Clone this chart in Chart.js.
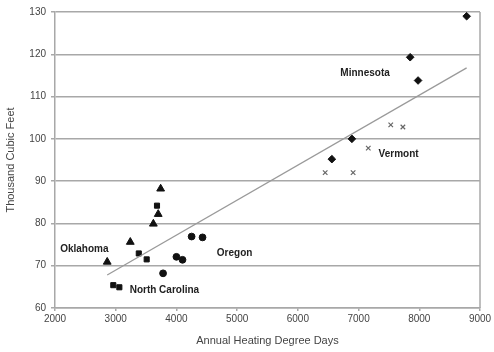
<!DOCTYPE html>
<html lang="en">
<head>
    <meta charset="UTF-8">
    <title>Heating Degree Days vs Gas Use</title>
    <script src="https://cdn.jsdelivr.net/npm/chart.js"></script>
    <style>
        html, body { margin: 0; padding: 0; background: #fff; }
        #wrap { width: 494px; height: 352px; }
    </style>
</head>
<body>
    <div id="wrap"><canvas id="hddChart" width="494" height="352"></canvas></div>
    <script>
        // Values (degree days, thousand cubic feet)
        const minnesotaX = [8780, 7850, 7980, 6890, 6560];
        const minnesotaY = [129.0, 119.3, 113.8, 100.0, 95.2];
        const vermontX = [7530, 7730, 7160, 6450, 6910];
        const vermontY = [103.3, 102.8, 97.8, 92.0, 92.0];
        const oklahomaX = [2860, 3240, 3620, 3700, 3740];
        const oklahomaY = [70.9, 75.6, 79.9, 82.2, 88.2];
        const carolinaX = [3680, 3380, 3510, 2960, 3060];
        const carolinaY = [84.2, 72.9, 71.5, 65.4, 64.9];
        const oregonX = [4250, 4430, 4000, 4100, 3780];
        const oregonY = [76.9, 76.7, 72.1, 71.4, 68.2];
        const trendX = [2860, 8780];
        const trendY = [67.8, 116.8];

        const yTicks = [60, 70, 80, 90, 100, 110, 120, 130];

        // State names placed next to their groups: [text, x, y]
        const stateLabels = [
            ['Minnesota', 6700, 115.6],
            ['Vermont', 7330, 96.3],
            ['Oklahoma', 2085, 74.0],
            ['North Carolina', 3230, 64.2],
            ['Oregon', 4665, 73.0]
        ];

        function pts(xs, ys) {
            return xs.map((x, i) => ({ x: x, y: ys[i] }));
        }

        const textFont = '"Liberation Sans", Arial, sans-serif';

        const labelPlugin = {
            id: 'stateLabels',
            afterDatasetsDraw(chart) {
                const c = chart.ctx;
                const xs = chart.scales.x, ys = chart.scales.y;
                c.save();
                c.font = 'bold 10px ' + textFont;
                c.fillStyle = '#222';
                c.textBaseline = 'middle';
                stateLabels.forEach(l => {
                    c.fillText(l[0], xs.getPixelForValue(l[1]), ys.getPixelForValue(l[2]));
                });
                c.restore();
            }
        };

        const framePlugin = {
            id: 'frame',
            beforeDatasetsDraw(chart) {
                const a = chart.chartArea, c = chart.ctx;
                c.save();
                c.strokeStyle = '#a8a8a8';
                c.lineWidth = 1.5;
                c.beginPath();
                c.moveTo(a.right, a.top);
                c.lineTo(a.right, a.bottom);
                c.stroke();
                c.restore();
            }
        };

        const ctx = document.getElementById('hddChart').getContext('2d');
        new Chart(ctx, {
            type: 'scatter',
            data: {
                datasets: [
                    {
                        type: 'line',
                        data: pts(trendX, trendY),
                        borderColor: '#9a9a9a',
                        borderWidth: 1.3,
                        pointRadius: 0,
                        fill: false
                    },
                    {
                        data: pts(minnesotaX, minnesotaY),
                        pointStyle: 'rectRot',
                        pointRadius: 3.8,
                        backgroundColor: '#111',
                        borderColor: '#111'
                    },
                    {
                        data: pts(vermontX, vermontY),
                        pointStyle: 'crossRot',
                        pointRadius: 3.2,
                        borderWidth: 1.2,
                        borderColor: '#666'
                    },
                    {
                        data: pts(oklahomaX, oklahomaY),
                        pointStyle: 'triangle',
                        pointRadius: 4.5,
                        backgroundColor: '#111',
                        borderColor: '#111'
                    },
                    {
                        data: pts(carolinaX, carolinaY),
                        pointStyle: 'rect',
                        pointRadius: 3.6,
                        backgroundColor: '#111',
                        borderColor: '#111'
                    },
                    {
                        data: pts(oregonX, oregonY),
                        pointStyle: 'circle',
                        pointRadius: 3.4,
                        backgroundColor: '#111',
                        borderColor: '#111'
                    }
                ]
            },
            options: {
                responsive: false,
                animation: false,
                layout: { padding: { top: 12, right: 14, left: 0, bottom: 0 } },
                plugins: {
                    legend: { display: false },
                    tooltip: { enabled: false }
                },
                scales: {
                    x: {
                        type: 'linear',
                        min: 2000,
                        max: 9000,
                        afterFit(axis) { axis.height = 44; },
                        ticks: {
                            stepSize: 1000,
                            color: '#444',
                            font: { family: textFont, size: 10 },
                            padding: 2,
                            callback: v => String(v)
                        },
                        grid: { drawOnChartArea: false, drawTicks: true, tickLength: 3, color: '#a8a8a8', lineWidth: 1.5 },
                        border: { color: '#a8a8a8', width: 1.5 },
                        title: {
                            display: true,
                            text: 'Annual Heating Degree Days',
                            color: '#444',
                            font: { family: textFont, size: 11 },
                            padding: { top: 2 }
                        }
                    },
                    y: {
                        min: 60,
                        max: 130,
                        afterFit(axis) { axis.width = 55; },
                        afterBuildTicks(axis) { axis.ticks = yTicks.map(v => ({ value: v })); },
                        ticks: {
                            color: '#444',
                            font: { family: textFont, size: 10 },
                            padding: 5
                        },
                        grid: { color: '#a8a8a8', lineWidth: 1.5, drawTicks: true, tickLength: 4 },
                        border: { color: '#a8a8a8', width: 1.5 },
                        title: {
                            display: true,
                            text: 'Thousand Cubic Feet',
                            color: '#444',
                            font: { family: textFont, size: 11 },
                            padding: { bottom: 2 }
                        }
                    }
                }
            },
            plugins: [framePlugin, labelPlugin]
        });
    </script>
</body>
</html>
